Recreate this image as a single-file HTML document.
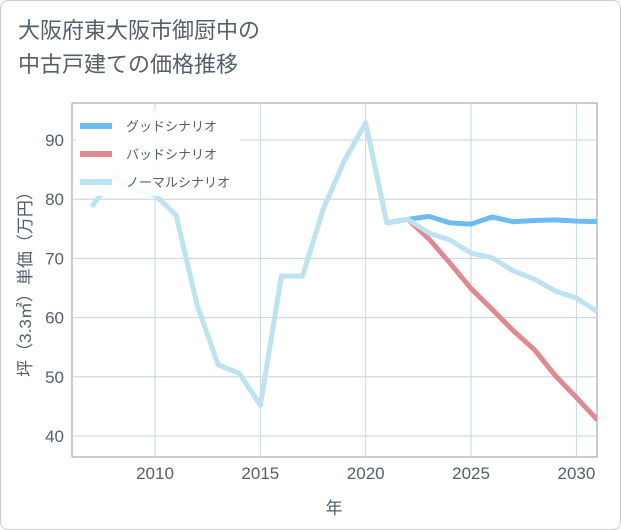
<!DOCTYPE html>
<html><head><meta charset="utf-8"><style>
body{margin:0;background:#fff;font-family:"Liberation Sans","Noto Sans CJK JP",sans-serif;}
#card{position:absolute;left:0;top:0;width:619px;height:528px;border:1px solid #ccc;border-radius:8px;background:#fff;}
#title{position:absolute;left:18px;top:14px;font-size:22px;line-height:34px;color:#555f6a;}
</style></head><body>
<div id="card"></div>
<div id="title">大阪府東大阪市御厨中の<br>中古戸建ての価格推移</div>
<svg id="c" width="621" height="530" style="position:absolute;left:0;top:0"></svg>
<script>
const years=[2007,2008,2009,2010,2011,2012,2013,2014,2015,2016,2017,2018,2019,2020,2021,2022,2023,2024,2025,2026,2027,2028,2029,2030,2031];
const normal=[78.7,83.8,81.7,80.7,77.3,62.1,52,50.6,45.2,67,67,78.5,86.6,92.9,76,76.6,74.3,73.1,70.9,70.1,67.9,66.5,64.5,63.3,61];
const goodYears=[2021,2022,2023,2024,2025,2026,2027,2028,2029,2030,2031];
const good=[76,76.6,77.1,76,75.8,77,76.2,76.4,76.5,76.3,76.2];
const bad=[76,76.6,73.3,69.2,64.9,61.4,57.8,54.6,50.2,46.5,42.7];
const yTicks=[40,50,60,70,80,90];
const xTicks=[2010,2015,2020,2025,2030];
const L=72,R=597,T=103,B=457;
const x=v=>155+(v-2010)*21.07;
const y=v=>140+(90-v)*5.92;
const s=document.getElementById('c');const NS='http://www.w3.org/2000/svg';
function mk(t,a,p){const e=document.createElementNS(NS,t);for(const k in a)e.setAttribute(k,a[k]);(p||s).appendChild(e);return e;}
mk('rect',{x:L,y:T,width:R-L,height:B-T,fill:'#fff',stroke:'#999'});
yTicks.forEach(v=>{const l=mk('line',{x1:L,x2:R,y1:y(v),y2:y(v),stroke:'#c5d2de'});


const t=mk('text',{x:L-8,y:y(v)+6,'text-anchor':'end','font-size':17,fill:'#555f6a'});t.textContent=v;

});
xTicks.forEach(v=>{const l=mk('line',{x1:x(v),x2:x(v),y1:T,y2:B,stroke:'#c5d8e6'});


const t=mk('text',{x:x(v),y:B+22,'text-anchor':'middle','font-size':17,fill:'#555f6a'});t.textContent=v;

});
const cp=mk('clipPath',{id:'cp'});mk('rect',{x:L,y:T,width:R-L,height:B-T},cp);
function line(xs,vs,col,name){const p=mk('polyline',{points:xs.map((a,i)=>x(a)+','+y(vs[i])).join(' '),fill:'none',stroke:col,'stroke-width':5,'stroke-linejoin':'round','clip-path':'url(#cp)'});

}
line(goodYears,good,'#6cbcf2','good-scenario-line');
line(goodYears,bad,'#de8a92','bad-scenario-line');
line(years,normal,'#bde2f0','normal-scenario-line');
// legend
const lb=mk('rect',{x:76,y:110,width:164,height:86,fill:'#fff','fill-opacity':0.9});


const lg=[['グッドシナリオ','#6cbcf2'],['バッドシナリオ','#de8a92'],['ノーマルシナリオ','#bde2f0']];
lg.forEach((d,i)=>{const g=mk('g',{});


mk('rect',{x:80,y:123+i*28,width:32,height:6,fill:d[1]},g);
const t=mk('text',{x:126,y:131+i*28,'font-size':13,fill:'#555f6a'},g);t.textContent=d[0];});
const xt=mk('text',{x:334,y:514,'text-anchor':'middle','font-size':17,fill:'#555f6a'});xt.textContent='年';


const yt=mk('text',{x:0,y:0,'text-anchor':'middle','font-size':17,fill:'#555f6a',transform:'translate(31,280) rotate(-90)'});yt.textContent='坪（3.3㎡）単価（万円）';


</script>
</body></html>
